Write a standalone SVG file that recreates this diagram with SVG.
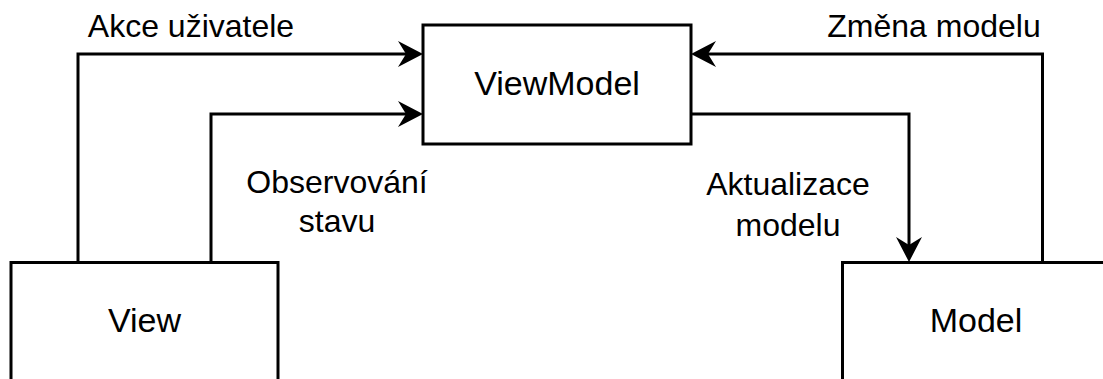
<svg xmlns="http://www.w3.org/2000/svg" width="1103" height="379" viewBox="0 0 1103 379">
  <style>
    .box { fill: #ffffff; stroke: #000000; stroke-width: 3; }
    .edge { fill: none; stroke: #000000; stroke-width: 3; }
    .node-text { font-family: "Liberation Sans", Arial, sans-serif; font-size: 34px; fill: #000000; text-anchor: middle; }
    .label { font-family: "Liberation Sans", Arial, sans-serif; font-size: 32px; fill: #000000; text-anchor: middle; }
  </style>
  <defs>
    <!-- classic arrowhead; path ends at the notch, tip sits 17px ahead -->
    <marker id="arrow" markerUnits="userSpaceOnUse" viewBox="-10 -15 30 30" markerWidth="30" markerHeight="30" refX="0" refY="0" orient="auto" overflow="visible">
      <path d="M17,0 L-8,-13 L0,0 L-8,13 Z" fill="#000000"/>
    </marker>
  </defs>
  <rect width="1103" height="379" fill="#ffffff"/>

  <g id="connectors">
    <path class="edge" d="M78,262 V54 H406" marker-end="url(#arrow)"/>
    <path class="edge" d="M211,262 V114 H406" marker-end="url(#arrow)"/>
    <path class="edge" d="M691,114 H909 V245" marker-end="url(#arrow)"/>
    <path class="edge" d="M1042.5,262 V54 H708" marker-end="url(#arrow)"/>
    <text class="label" x="191" y="37">Akce uživatele</text>
    <text class="label" x="934" y="37">Změna modelu</text>
    <text class="label" x="337" y="193">Observování</text>
    <text class="label" x="337" y="232">stavu</text>
    <text class="label" x="788" y="195">Aktualizace</text>
    <text class="label" x="788" y="236">modelu</text>
  </g>

  <g id="viewmodel">
    <rect class="box" x="423" y="25" width="268" height="119"/>
    <text class="node-text" x="557" y="95">ViewModel</text>
  </g>

  <g id="view">
    <rect class="box" x="11" y="262.5" width="267" height="120"/>
    <text class="node-text" x="144.5" y="331.5">View</text>
  </g>

  <g id="model">
    <rect class="box" x="842.5" y="262.5" width="267" height="120"/>
    <text class="node-text" x="976" y="331.5">Model</text>
  </g>
</svg>
